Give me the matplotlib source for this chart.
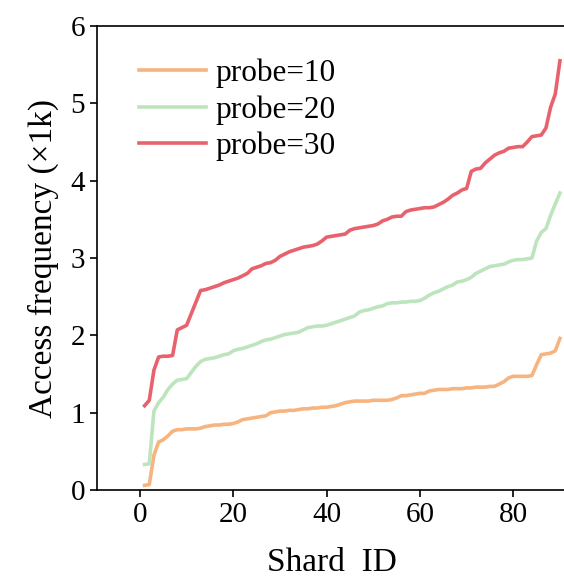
import numpy as np
import matplotlib
matplotlib.use('Agg')
import matplotlib.pyplot as plt

plt.rcParams['font.family'] = ['Liberation Serif', 'DejaVu Serif']

shard = np.arange(1, 91)

probe10 = [0.06, 0.07, 0.45, 0.62, 0.65, 0.70, 0.76, 0.78, 0.78, 0.79,
           0.79, 0.79, 0.80, 0.82, 0.83, 0.84, 0.84, 0.85, 0.85, 0.86,
           0.88, 0.91, 0.92, 0.93, 0.94, 0.95, 0.96, 1.00, 1.01, 1.02,
           1.02, 1.03, 1.03, 1.04, 1.05, 1.05, 1.06, 1.06, 1.07, 1.07,
           1.08, 1.09, 1.11, 1.13, 1.14, 1.15, 1.15, 1.15, 1.15, 1.16,
           1.16, 1.16, 1.16, 1.17, 1.19, 1.22, 1.22, 1.23, 1.24, 1.25,
           1.25, 1.28, 1.29, 1.30, 1.30, 1.30, 1.31, 1.31, 1.31, 1.32,
           1.32, 1.33, 1.33, 1.33, 1.34, 1.34, 1.37, 1.40, 1.45, 1.47,
           1.47, 1.47, 1.47, 1.48, 1.62, 1.75, 1.76, 1.77, 1.80, 1.96]

probe20 = [0.33, 0.34, 1.02, 1.13, 1.20, 1.30, 1.37, 1.42, 1.43, 1.44,
           1.52, 1.60, 1.66, 1.69, 1.70, 1.71, 1.73, 1.75, 1.76, 1.80,
           1.82, 1.83, 1.85, 1.87, 1.89, 1.92, 1.94, 1.95, 1.97, 1.99,
           2.01, 2.02, 2.03, 2.04, 2.07, 2.10, 2.11, 2.12, 2.12, 2.13,
           2.15, 2.17, 2.19, 2.21, 2.23, 2.25, 2.30, 2.32, 2.33, 2.35,
           2.37, 2.38, 2.41, 2.42, 2.42, 2.43, 2.43, 2.44, 2.44, 2.45,
           2.48, 2.52, 2.55, 2.57, 2.60, 2.63, 2.65, 2.69, 2.70, 2.72,
           2.75, 2.80, 2.83, 2.86, 2.89, 2.90, 2.91, 2.92, 2.95, 2.97,
           2.98, 2.98, 2.99, 3.00, 3.22, 3.33, 3.38, 3.55, 3.70, 3.84]

probe30 = [1.09, 1.16, 1.55, 1.72, 1.73, 1.73, 1.74, 2.07, 2.10, 2.13,
           2.28, 2.43, 2.58, 2.59, 2.61, 2.63, 2.65, 2.68, 2.70, 2.72,
           2.74, 2.77, 2.80, 2.86, 2.88, 2.90, 2.93, 2.94, 2.97, 3.02,
           3.05, 3.08, 3.10, 3.12, 3.14, 3.15, 3.16, 3.18, 3.22, 3.27,
           3.28, 3.29, 3.30, 3.31, 3.36, 3.38, 3.39, 3.40, 3.41, 3.42,
           3.44, 3.48, 3.50, 3.53, 3.54, 3.54, 3.60, 3.62, 3.63, 3.64,
           3.65, 3.65, 3.66, 3.69, 3.72, 3.76, 3.81, 3.84, 3.88, 3.90,
           4.12, 4.15, 4.16, 4.23, 4.28, 4.33, 4.36, 4.38, 4.42, 4.43,
           4.44, 4.44, 4.50, 4.57, 4.58, 4.59, 4.68, 4.95, 5.12, 5.55]

labels = ['probe=10', 'probe=20', 'probe=30']
colors = ['#F7B47F', '#BEE4BE', '#E8626D']

fig = plt.figure(figsize=(5.64, 5.83), dpi=100)
ax = fig.add_axes([97/564, 93/583, 469/564, 464/583])

for ys, lab, c in zip([probe10, probe20, probe30], labels, colors):
    ax.plot(shard, ys, color=c, lw=2.6, label=lab)

ax.set_xlim(-9.2, 91.3)
ax.set_ylim(0, 6)
ax.set_xticks([0, 20, 40, 60, 80])
ax.set_yticks([0, 1, 2, 3, 4, 5, 6])
ax.tick_params(labelsize=21, length=5, width=1.2)
for s in ax.spines.values():
    s.set_linewidth(1.2)
ax.set_xlabel('Shard  ID', fontsize=24, labelpad=14)
ax.set_ylabel('Access frequency (\u00d71k)', fontsize=24, labelpad=8)

ax.legend(loc='upper left', bbox_to_anchor=(0.03, 0.99), frameon=False,
          fontsize=22.5, handlelength=2.15, handletextpad=0.3, labelspacing=0.22)

fig.savefig('out.png', dpi=100)
